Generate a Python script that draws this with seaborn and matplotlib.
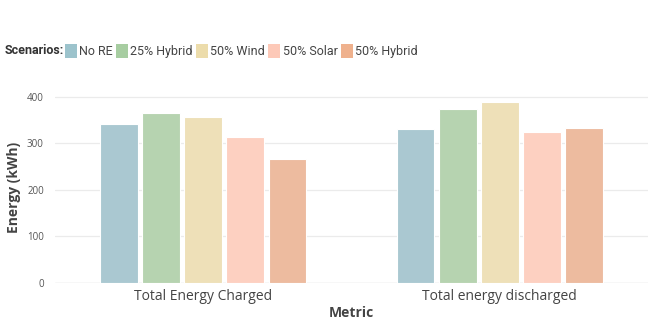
import numpy as np
import pandas as pd
import matplotlib
matplotlib.use("Agg")
import matplotlib.pyplot as plt
from matplotlib.patches import Patch
import seaborn as sns

# Data
metrics = ["Total Energy Charged", "Total energy discharged"]
scenarios = ["No RE", "25% Hybrid", "50% Wind", "50% Solar", "50% Hybrid"]
charged = [342, 364, 355, 314, 267]
discharged = [330, 373, 389, 323, 332]

bar_colors = ["#aac8d1", "#b6d3b0", "#eee0b8", "#fdd0c1", "#edbb9f"]
legend_colors = ["#9cc3cc", "#a7cda1", "#ecdcab", "#fdc9b8", "#efb18d"]

df = pd.DataFrame({
    "Metric": [metrics[0]] * len(scenarios) + [metrics[1]] * len(scenarios),
    "Scenario": scenarios * 2,
    "Energy": charged + discharged,
})

sns.set_theme(style="white")
plt.rcParams["font.family"] = ["Open Sans", "DejaVu Sans"]

fig = plt.figure(figsize=(6.54, 3.24), dpi=100)
ax = fig.add_axes([55 / 654, 41 / 324, 593 / 654, 0.590])

sns.barplot(data=df, x="Metric", y="Energy", hue="Scenario", hue_order=scenarios,
            palette=bar_colors, saturation=1, width=0.71, gap=0.1,
            edgecolor="white", linewidth=0.8, legend=False, ax=ax)

ax.set_ylim(0, 410)
ax.set_yticks([0, 100, 200, 300, 400])
ax.yaxis.grid(True, color="#ebebeb", linewidth=0.9)
ax.set_axisbelow(True)
for s in ax.spines.values():
    s.set_visible(False)
ax.axhline(0, color="#e3e3e3", linewidth=1, zorder=0)

ax.tick_params(axis="y", labelsize=7, labelcolor="#555555", length=0, pad=8)
ax.tick_params(axis="x", labelsize=10, labelcolor="#444444", length=0, pad=4)
ax.set_xlabel("Metric", fontsize=10, fontweight="bold", color="#444444", labelpad=2)
ax.set_ylabel("Energy (kWh)", fontsize=10, fontweight="bold", color="#444444")
ax.yaxis.set_label_coords(-0.0573, 0.5)

# legend row across the top
fig.text(5 / 654, 1 - 51 / 324, "Scenarios:", fontsize=9, fontweight="bold",
         color="#333333", va="center", ha="left", family=["Roboto", "DejaVu Sans"])
handles = [Patch(facecolor=c, edgecolor="none") for c in legend_colors]
fig.legend(handles, scenarios, loc="center left", bbox_to_anchor=(65 / 654, 1 - 51 / 324),
           ncol=5, frameon=False, handlelength=0.95, handleheight=1.3,
           handletextpad=0.2, columnspacing=0.25, borderaxespad=0, borderpad=0,
           prop={"family": ["Roboto", "DejaVu Sans"], "size": 9},
           labelcolor="#444444")

fig.savefig("out.png", dpi=100)
